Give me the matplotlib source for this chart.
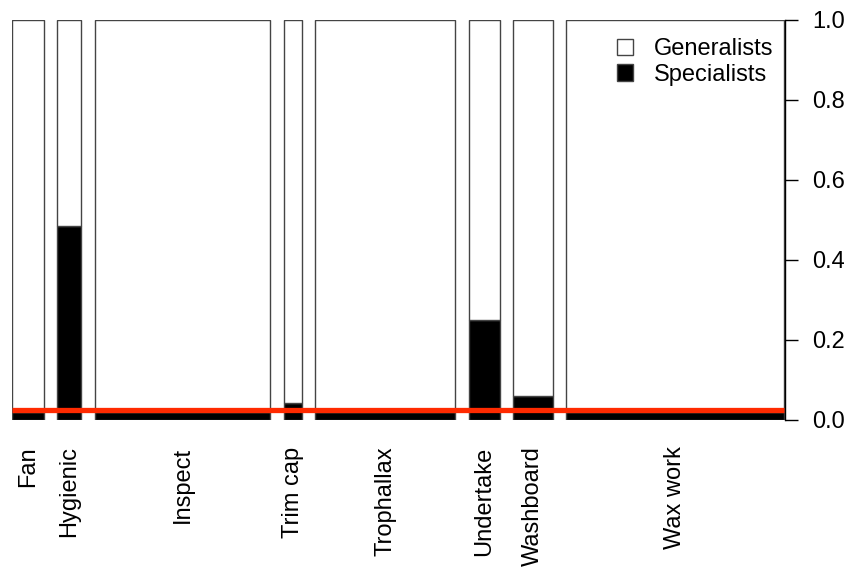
import numpy as np
import matplotlib.pyplot as plt

plt.rcParams['font.family'] = ['Liberation Sans', 'DejaVu Sans']

# task categories, relative group sizes (bar widths) and fraction of specialists
tasks = ['Fan', 'Hygienic', 'Inspect', 'Trim cap', 'Trophallax',
         'Undertake', 'Washboard', 'Wax work']
sizes = [32, 24, 176, 18, 140, 31, 40, 218]
specialists = [0.02, 0.485, 0.02, 0.043, 0.02, 0.25, 0.059, 0.02]
baseline = 0.025

gap = 13.5
sizes = np.array(sizes, dtype=float)
spec = np.array(specialists)
lefts = np.concatenate([[0], np.cumsum(sizes + gap)[:-1]])
centers = lefts + sizes / 2
total = lefts[-1] + sizes[-1]

fig = plt.figure(figsize=(8.6, 5.69), dpi=100)
ax = fig.add_axes([12 / 860, 1 - 420 / 569, 773 / 860, 400 / 569])

ax.bar(lefts, spec, sizes, align='edge', color='black',
       edgecolor='#444444', linewidth=1, label='Specialists')
ax.bar(lefts, 1 - spec, sizes, bottom=spec, align='edge', color='white',
       edgecolor='#444444', linewidth=1, label='Generalists')
ax.plot([0, total], [baseline, baseline], color='#ff2a00', lw=3.8,
        solid_capstyle='butt', zorder=5)

ax.set_xlim(0, total + 1)
ax.set_ylim(0, 1)
for s in ['top', 'left', 'bottom']:
    ax.spines[s].set_visible(False)
ax.spines['right'].set_linewidth(1)
ax.yaxis.tick_right()
ax.set_yticks([0, 0.2, 0.4, 0.6, 0.8, 1.0])
ax.set_yticklabels(['0.0', '0.2', '0.4', '0.6', '0.8', '1.0'])
ax.tick_params(axis='y', direction='out', length=9.5, width=1, pad=10,
               labelsize=17)
ax.set_xticks(centers)
ax.set_xticklabels(tasks, rotation=90, va='top', ha='center')
ax.tick_params(axis='x', length=0, pad=19, labelsize=17)

h, l = ax.get_legend_handles_labels()
ax.legend(h[::-1], l[::-1], loc='upper right', bbox_to_anchor=(1.013, 1.008),
          frameon=False, fontsize=17, handlelength=0.7, handleheight=0.7,
          handletextpad=0.9, labelspacing=0.15)

fig.savefig('out.png', dpi=100)
